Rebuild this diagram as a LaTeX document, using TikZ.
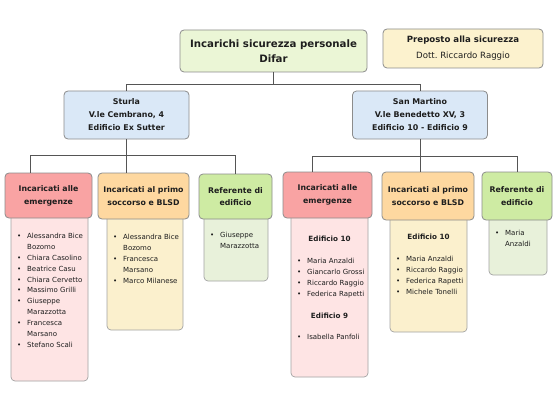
\documentclass[tikz,border=0pt]{standalone}
\usepackage{fontspec}
\setmainfont{DejaVu Sans}
\usetikzlibrary{calc}
\definecolor{topgreen}{RGB}{235,246,214}
\definecolor{prepyellow}{RGB}{252,242,206}
\definecolor{siteblue}{RGB}{218,232,247}
\definecolor{emhead}{RGB}{249,163,163}
\definecolor{embody}{RGB}{254,228,228}
\definecolor{prhead}{RGB}{254,216,160}
\definecolor{prbody}{RGB}{251,240,205}
\definecolor{rfhead}{RGB}{206,235,163}
\definecolor{rfbody}{RGB}{232,241,218}
\definecolor{boxline}{RGB}{140,140,140}
\definecolor{connline}{RGB}{85,85,85}
\definecolor{txt}{RGB}{30,30,30}
\newcommand{\itb}{\textbullet}
\begin{document}
\begin{tikzpicture}[x=1pt,y=-1pt,
  box/.style={draw=boxline, line width=0.8pt, rounded corners=4pt, inner sep=0pt, text=txt, align=center},
  hdr/.style={box, font=\fontsize{7.8}{12.8}\selectfont\bfseries},
  bodybox/.style={draw=boxline!80, line width=0.7pt, rounded corners=4pt, inner sep=0pt},
  lst/.style={anchor=north west, inner sep=0pt, text=txt, font=\fontsize{7.0}{10.9}\selectfont},
  subh/.style={inner sep=0pt, text=txt, font=\fontsize{7.2}{10.9}\selectfont\bfseries},
  conn/.style={draw=connline, line width=0.9pt}]
\useasboundingbox[fill=white] (0,0) rectangle (560,420);

% top level
\node[box, fill=topgreen, minimum width=187pt, minimum height=42pt,
  font=\fontsize{10.2}{15}\selectfont\bfseries] (top) at (273.5,51) {Incarichi sicurezza personale\\Difar};
\node[box, fill=prepyellow, minimum width=160pt, minimum height=39pt,
  font=\fontsize{8.6}{16}\selectfont] (prep) at (463,48.5) {\textbf{Preposto alla sicurezza}\\Dott.\ Riccardo Raggio};

% sites
\node[box, fill=siteblue, minimum width=125pt, minimum height=48pt,
  font=\fontsize{7.9}{13}\selectfont\bfseries] (sturla) at (126.5,115) {Sturla\\V.le Cembrano, 4\\Edificio Ex Sutter};
\node[box, fill=siteblue, minimum width=135pt, minimum height=48pt,
  font=\fontsize{7.9}{13}\selectfont\bfseries] (sm) at (420,115) {San Martino\\V.le Benedetto XV, 3\\Edificio 10 - Edificio 9};

% bodies (drawn before headers)
\node[bodybox, fill=embody, minimum width=77pt, minimum height=171pt] (be1) at (49.5,295.5) {};
\node[bodybox, fill=prbody, minimum width=76pt, minimum height=120pt] (bp1) at (145,270) {};
\node[bodybox, fill=rfbody, minimum width=64pt, minimum height=71pt] (br1) at (236,245.5) {};
\node[bodybox, fill=embody, minimum width=77pt, minimum height=167pt] (be2) at (329.5,293.5) {};
\node[bodybox, fill=prbody, minimum width=77pt, minimum height=122pt] (bp2) at (428.5,271) {};
\node[bodybox, fill=rfbody, minimum width=58pt, minimum height=65pt] (br2) at (518,242.5) {};

% headers
\node[hdr, fill=emhead, minimum width=87pt, minimum height=45pt] (he1) at (48.5,195.5) {Incaricati alle\\emergenze};
\node[hdr, fill=prhead, minimum width=91pt, minimum height=46pt] (hp1) at (143.5,196) {Incaricati al primo\\soccorso e BLSD};
\node[hdr, fill=rfhead, minimum width=73pt, minimum height=45pt] (hr1) at (235.5,196.5) {Referente di\\edificio};
\node[hdr, fill=emhead, minimum width=89pt, minimum height=46pt] (he2) at (327.5,195) {Incaricati alle\\emergenze};
\node[hdr, fill=prhead, minimum width=92pt, minimum height=48pt] (hp2) at (428,196) {Incaricati al primo\\soccorso e BLSD};
\node[hdr, fill=rfhead, minimum width=70pt, minimum height=48pt] (hr2) at (517,196) {Referente di\\edificio};

% lists
\node[lst] (l1) at (17,230.6) {\begin{tabular}{@{}p{10pt}@{}l@{}}
\itb & Alessandra Bice\\ & Bozomo\\ \itb & Chiara Casolino\\ \itb & Beatrice Casu\\
\itb & Chiara Cervetto\\ \itb & Massimo Grilli\\ \itb & Giuseppe\\ & Marazzotta\\
\itb & Francesca\\ & Marsano\\ \itb & Stefano Scali\end{tabular}};
\node[lst] (l2) at (113,231.6) {\begin{tabular}{@{}p{10pt}@{}l@{}}
\itb & Alessandra Bice\\ & Bozomo\\ \itb & Francesca\\ & Marsano\\ \itb & Marco Milanese\end{tabular}};
\node[lst] (l3) at (210,229.6) {\begin{tabular}{@{}p{10pt}@{}l@{}}
\itb & Giuseppe\\ & Marazzotta\end{tabular}};

\node[subh] (s1) at (329.5,239) {Edificio 10};
\node[lst] (l4) at (297,255.6) {\begin{tabular}{@{}p{10pt}@{}l@{}}
\itb & Maria Anzaldi\\ \itb & Giancarlo Grossi\\ \itb & Riccardo Raggio\\ \itb & Federica Rapetti\end{tabular}};
\node[subh] (s2) at (329.5,316) {Edificio 9};
\node[lst] (l5) at (297,331.6) {\begin{tabular}{@{}p{10pt}@{}l@{}}
\itb & Isabella Panfoli\end{tabular}};

\node[subh] (s3) at (428.5,237) {Edificio 10};
\node[lst] (l6) at (396,253.6) {\begin{tabular}{@{}p{10pt}@{}l@{}}
\itb & Maria Anzaldi\\ \itb & Riccardo Raggio\\ \itb & Federica Rapetti\\ \itb & Michele Tonelli\end{tabular}};

\node[lst] (l7) at (495,227.6) {\begin{tabular}{@{}p{10pt}@{}l@{}}
\itb & Maria\\ & Anzaldi\end{tabular}};

% connectors
\coordinate (bar1) at (273.5,84);
\draw[conn] (top.south) -- (top.south |- bar1);
\draw[conn] (sturla.north) -- (sturla.north |- bar1) -- (sm.north |- bar1) -- (sm.north);

\coordinate (bar2) at (30,155);
\draw[conn] (sturla.south) -- (sturla.south |- hp1.north);
\draw[conn] (he1.north -| bar2) -- (bar2) -- (bar2 -| hr1.north) -- (hr1.north);

\coordinate (bar3) at (312,156);
\draw[conn] (sm.south) -- (sm.south |- hp2.north);
\draw[conn] (he2.north -| bar3) -- (bar3) -- (bar3 -| hr2.north) -- (hr2.north);
\end{tikzpicture}
\end{document}
